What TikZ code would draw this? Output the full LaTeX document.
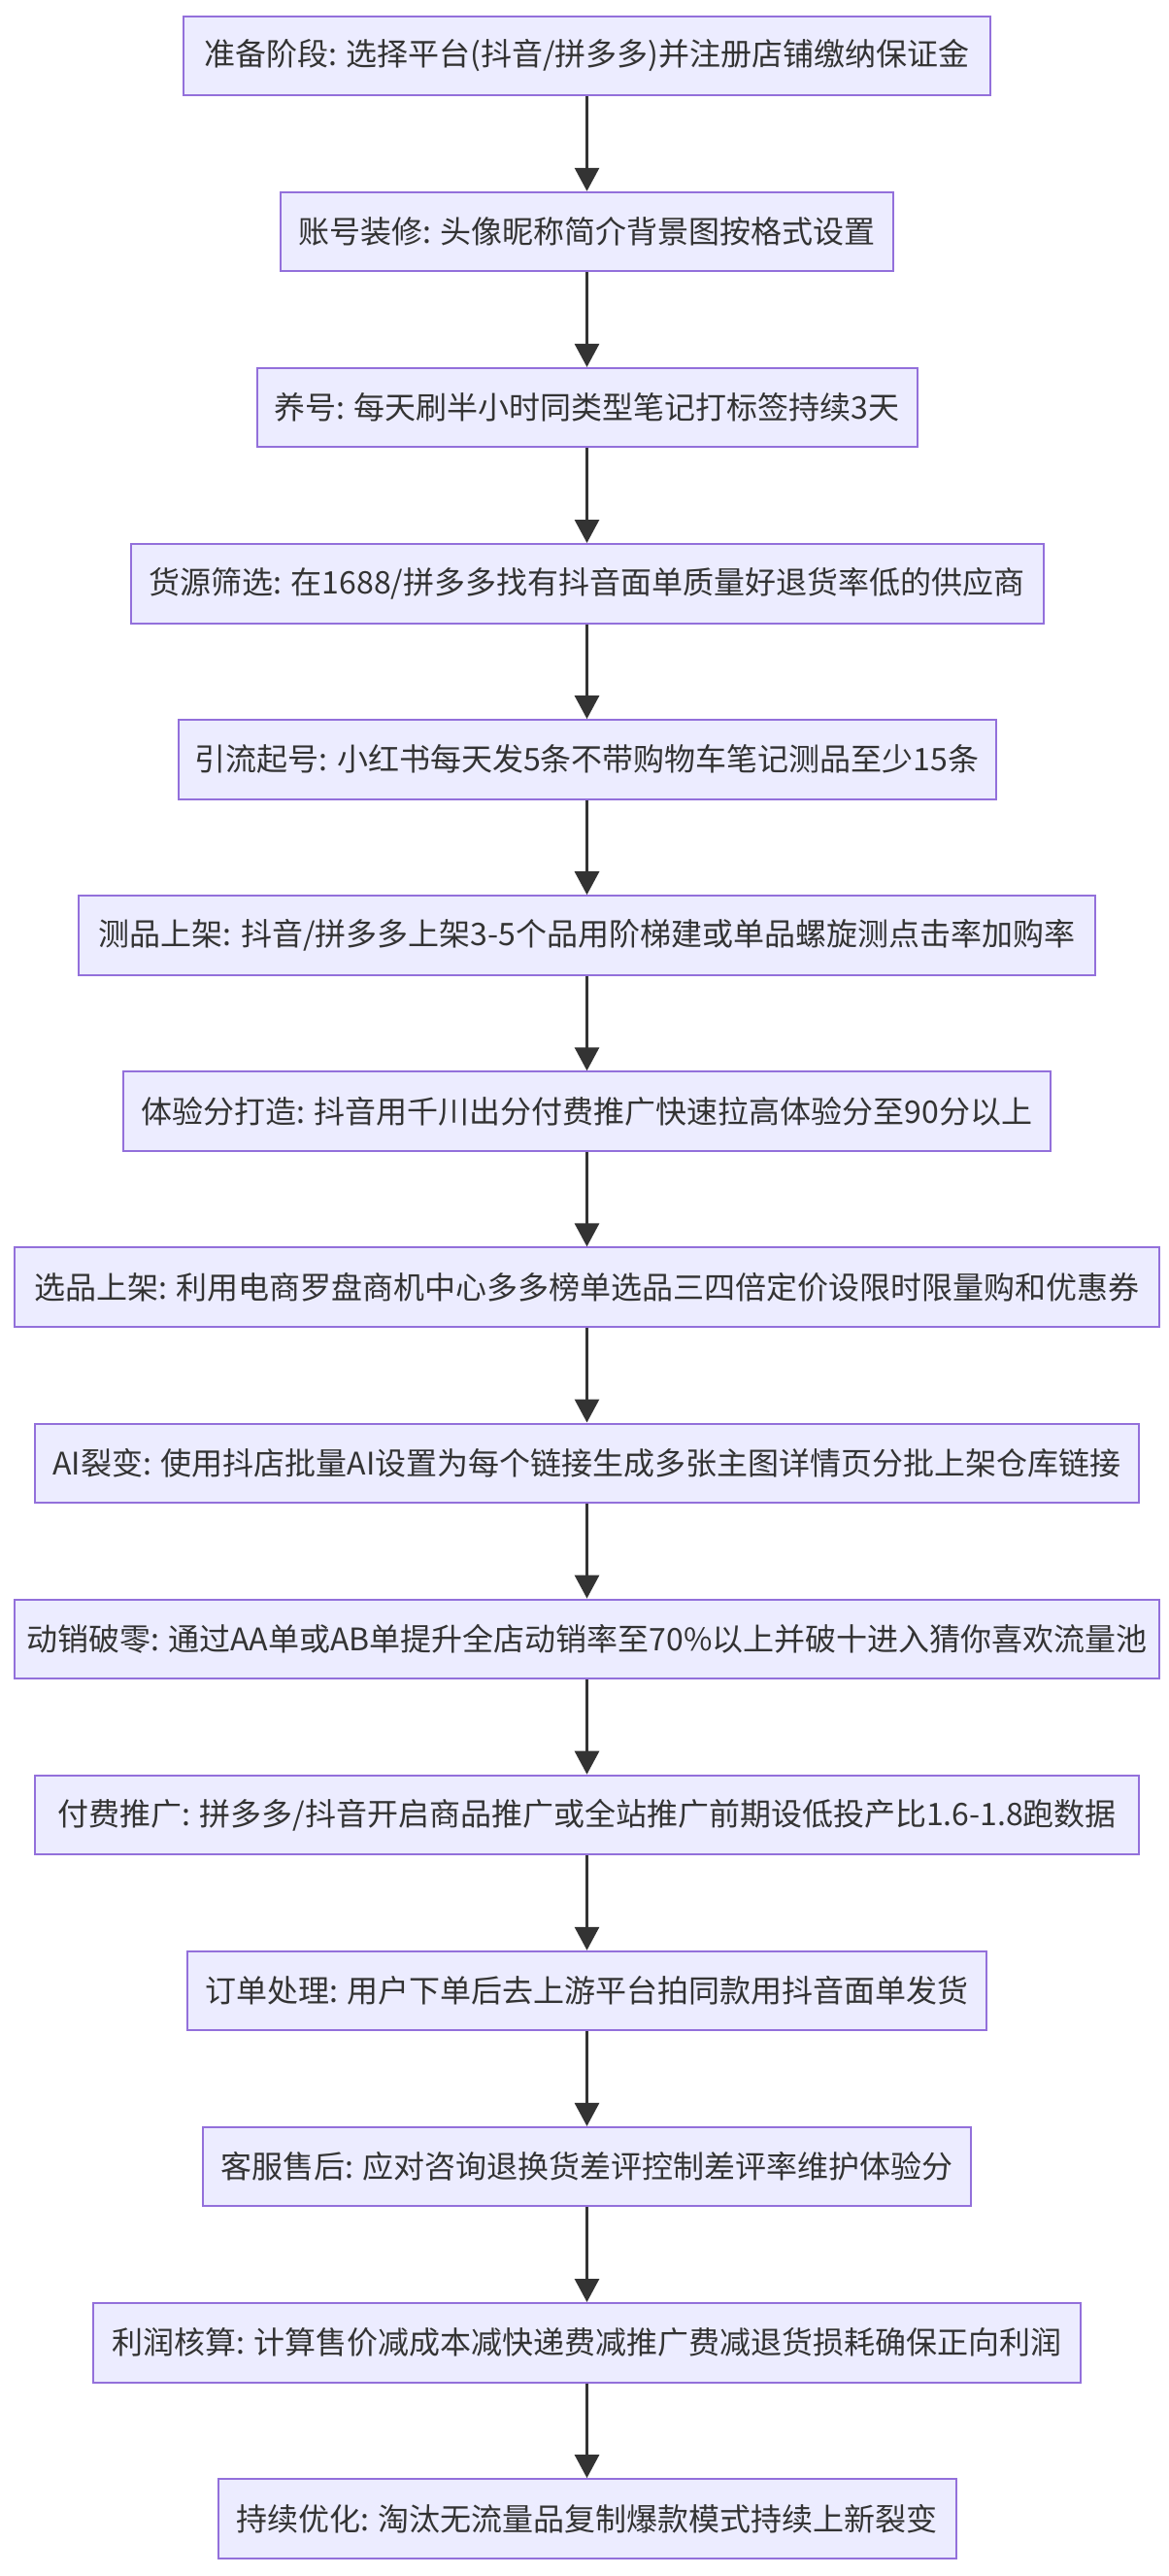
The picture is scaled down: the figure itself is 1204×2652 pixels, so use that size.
\documentclass[tikz,border=0pt]{standalone}
\usepackage{fontspec}
\setmainfont{Noto Sans CJK SC}
\usetikzlibrary{arrows.meta}
\definecolor{boxfill}{HTML}{ECECFF}
\definecolor{boxline}{HTML}{9370DB}
\definecolor{ink}{HTML}{333333}
\begin{document}
\begin{tikzpicture}[x=1pt,y=-1pt,
  stepbox/.style={draw=boxline, fill=boxfill, line width=2pt, minimum height=81.5pt,
    inner xsep=0pt, inner ysep=0pt, text=ink, anchor=north,
    font=\fontsize{32pt}{38pt}\selectfont},
  flow/.style={draw=ink, line width=3pt, -{Triangle[length=24pt,width=25pt]}}]
\useasboundingbox (0,0) rectangle (1204,2652);
\node[stepbox, minimum width=831pt]  (n1)  at (604.5,15.7)   {准备阶段: 选择平台(抖音/拼多多)并注册店铺缴纳保证金};
\node[stepbox, minimum width=631pt]  (n2)  at (604.5,196.8)  {账号装修: 头像昵称简介背景图按格式设置};
\node[stepbox, minimum width=680pt]  (n3)  at (604.5,377.9)  {养号: 每天刷半小时同类型笔记打标签持续3天};
\node[stepbox, minimum width=940pt]  (n4)  at (604.5,559.0)  {货源筛选: 在1688/拼多多找有抖音面单质量好退货率低的供应商};
\node[stepbox, minimum width=842pt]  (n5)  at (604.5,740.1)  {引流起号: 小红书每天发5条不带购物车笔记测品至少15条};
\node[stepbox, minimum width=1047pt] (n6)  at (604.5,921.2)  {测品上架: 抖音/拼多多上架3-5个品用阶梯建或单品螺旋测点击率加购率};
\node[stepbox, minimum width=955pt]  (n7)  at (604.5,1102.3) {体验分打造: 抖音用千川出分付费推广快速拉高体验分至90分以上};
\node[stepbox, minimum width=1179pt] (n8)  at (604.5,1283.4) {选品上架: 利用电商罗盘商机中心多多榜单选品三四倍定价设限时限量购和优惠券};
\node[stepbox, minimum width=1137pt] (n9)  at (604.5,1464.5) {AI裂变: 使用抖店批量AI设置为每个链接生成多张主图详情页分批上架仓库链接};
\node[stepbox, minimum width=1179pt] (n10) at (604.5,1645.6) {动销破零: 通过AA单或AB单提升全店动销率至70\%以上并破十进入猜你喜欢流量池};
\node[stepbox, minimum width=1137pt] (n11) at (604.5,1826.7) {付费推广: 拼多多/抖音开启商品推广或全站推广前期设低投产比1.6-1.8跑数据};
\node[stepbox, minimum width=823pt]  (n12) at (604.5,2007.8) {订单处理: 用户下单后去上游平台拍同款用抖音面单发货};
\node[stepbox, minimum width=791pt]  (n13) at (604.5,2188.9) {客服售后: 应对咨询退换货差评控制差评率维护体验分};
\node[stepbox, minimum width=1017pt] (n14) at (604.5,2370.0) {利润核算: 计算售价减成本减快递费减推广费减退货损耗确保正向利润};
\node[stepbox, minimum width=760pt]  (n15) at (604.5,2551.1) {持续优化: 淘汰无流量品复制爆款模式持续上新裂变};
\foreach \a/\b in {n1/n2,n2/n3,n3/n4,n4/n5,n5/n6,n6/n7,n7/n8,n8/n9,n9/n10,n10/n11,n11/n12,n12/n13,n13/n14,n14/n15}
  \draw[flow] (\a.south) -- (\b.north);
\end{tikzpicture}
\end{document}
